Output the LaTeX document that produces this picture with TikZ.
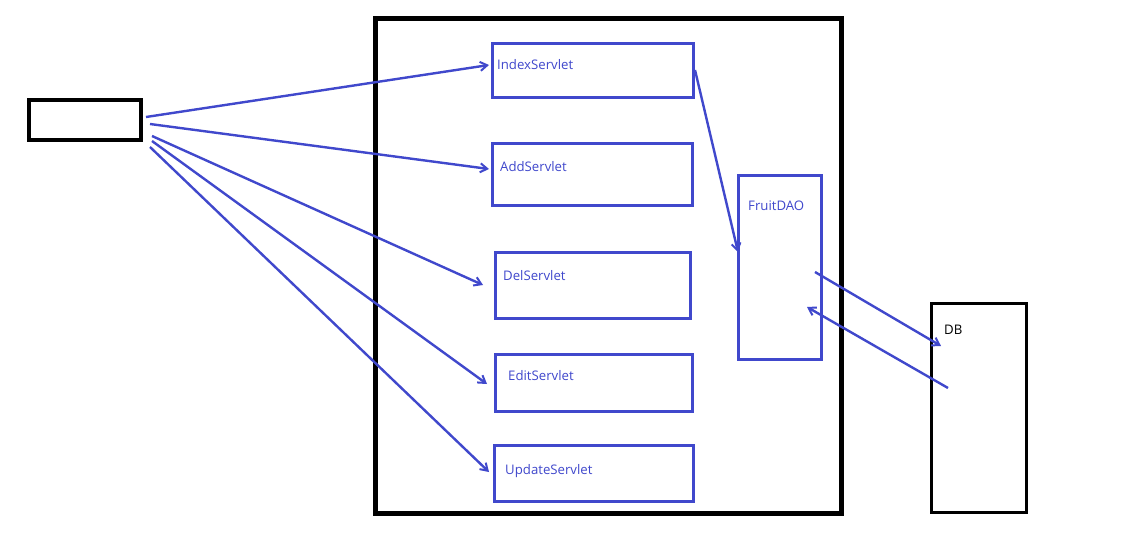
\documentclass[tikz,border=0pt]{standalone}
\usepackage{fontspec}
\setmainfont{Open Sans}
\usetikzlibrary{arrows.meta}
\definecolor{pen}{HTML}{4048CC}
\tikzset{
  x=1pt,y=-1pt,
  blk/.style={draw=black,line width=4pt,inner sep=0pt,anchor=north west},
  bluebox/.style={draw=pen,line width=2.6pt,inner sep=0pt,anchor=north west},
  lbl/.style={text=pen,font=\fontsize{13.2}{15}\selectfont,anchor=base west,inner sep=0pt},
  conn/.style={draw=pen,line width=2.4pt,-{Straight Barb[length=7pt,width=9pt,line width=2pt]}},
}
\begin{document}
\begin{tikzpicture}
\useasboundingbox[fill=white] (0,0) rectangle (1131,538);
% client
\node[blk,minimum width=112pt,minimum height=40pt] (client) at (27,98) {};
% container
\node[draw=black,line width=5pt,inner sep=0pt,anchor=north west,minimum width=466pt,minimum height=495pt] (web) at (372.5,15.5) {};
% servlets
\node[bluebox,minimum width=201pt,minimum height=54pt] (idx) at (491,42) {};
\node[lbl] (idxl) at (497,69) {IndexServlet};
\node[bluebox,minimum width=200pt,minimum height=62pt] (add) at (491,142) {};
\node[lbl] (addl) at (500,171) {AddServlet};
\node[bluebox,minimum width=195pt,minimum height=66pt] (del) at (494,251) {};
\node[lbl] (dell) at (503,280) {DelServlet};
\node[bluebox,minimum width=197pt,minimum height=57pt] (edit) at (494,353) {};
\node[lbl] (editl) at (508,380) {EditServlet};
\node[bluebox,minimum width=199pt,minimum height=56pt] (upd) at (493,444) {};
\node[lbl] (updl) at (505,474) {UpdateServlet};
% DAO
\node[bluebox,minimum width=83pt,minimum height=184pt] (dao) at (737,174) {};
\node[lbl] (daol) at (748,210) {FruitDAO};
% DB
\node[draw=black,line width=3pt,inner sep=0pt,anchor=north west,minimum width=95pt,minimum height=209pt] (db) at (930,302) {};
\node[lbl,text=black] (dbl) at (944,334) {DB};
% connector ends
\coordinate (c1) at (146,117);
\coordinate (c2) at (150,124);
\coordinate (c3) at (152,136);
\coordinate (c4) at (152,141);
\coordinate (c5) at (150,147);
\coordinate (t1) at (489,65);
\coordinate (t2) at (489,169);
\coordinate (t3) at (483,285);
\coordinate (t4) at (487,384);
\coordinate (t5) at (489,472);
\coordinate (d0) at (695,70);
\coordinate (d1) at (738,252);
\coordinate (q0) at (815,272);
\coordinate (q1) at (941,346);
\coordinate (r0) at (948,388);
\coordinate (r1) at (807,307);
\draw[conn] (c1) -- (t1);
\draw[conn] (c2) -- (t2);
\draw[conn] (c3) -- (t3);
\draw[conn] (c4) -- (t4);
\draw[conn] (c5) -- (t5);
\draw[conn] (d0) -- (d1);
\draw[conn] (q0) -- (q1);
\draw[conn] (r0) -- (r1);
\end{tikzpicture}
\end{document}
